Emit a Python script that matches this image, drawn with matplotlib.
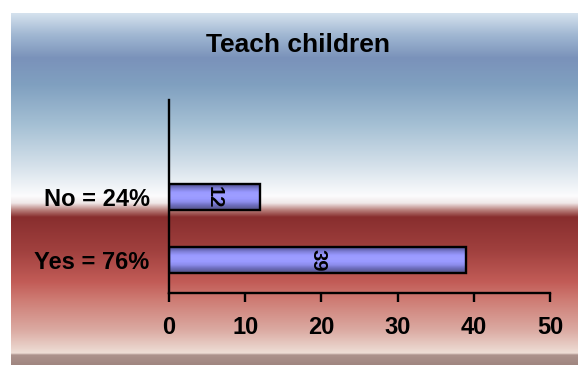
import numpy as np
import matplotlib
matplotlib.use("Agg")
import matplotlib.pyplot as plt

# Survey answers and counts
categories = ["Yes = 76%", "No = 24%"]
counts = [39, 12]
xticks = [0, 10, 20, 30, 40, 50]
title = "Teach children"

plt.rcParams['font.family'] = ['Liberation Sans', 'DejaVu Sans']

W, H = 578, 365
fig = plt.figure(figsize=(W / 100, H / 100), dpi=100)
fig.patch.set_facecolor('white')

# Chart-area backdrop: blue sky fading to white, then a red band fading to pink
stops = [
    (13, (214, 227, 238)),
    (35, (160, 183, 210)),
    (58, (122, 146, 186)),
    (85, (128, 160, 192)),
    (125, (165, 192, 212)),
    (165, (212, 224, 234)),
    (196, (252, 252, 253)),
    (203, (240, 232, 232)),
    (210, (185, 128, 124)),
    (217, (136, 46, 46)),
    (250, (160, 64, 62)),
    (282, (194, 92, 87)),
    (300, (206, 124, 116)),
    (330, (219, 170, 162)),
    (353, (238, 222, 214)),
    (355, (172, 146, 140)),
    (365, (160, 134, 128)),
]
rows = np.arange(13, 365) + 0.5
ys = [s[0] for s in stops]
grad = np.stack([np.interp(rows, ys, [s[1][c] for s in stops]) for c in range(3)], axis=-1) / 255.0
grad = grad[:, None, :]

bg = fig.add_axes([11 / W, 0, 1 - 11 / W, 352 / H], zorder=0)
bg.imshow(grad, aspect='auto', extent=[0, 1, 0, 1], interpolation='bilinear')
bg.set_axis_off()

# Bar chart
ax = fig.add_axes([169 / W, (H - 293) / H, 381 / W, 193 / H], zorder=1)
ax.patch.set_alpha(0)

ypos = np.arange(len(categories))
bar_h = 0.41
bars = ax.barh(ypos, counts, height=bar_h, facecolor='none',
               edgecolor='black', linewidth=1.7, zorder=3)

# Shaded periwinkle fill for each bar
shade = np.array([
    (96, 96, 170), (130, 130, 220), (153, 153, 255), (158, 158, 255),
    (153, 153, 255), (140, 140, 235), (110, 110, 190), (90, 90, 150)
]) / 255.0
shade = shade[:, None, :]
for b, y, v in zip(bars, ypos, counts):
    im = ax.imshow(shade, aspect='auto', extent=[0, v, y - bar_h / 2, y + bar_h / 2],
                   interpolation='bilinear', zorder=2)
    im.set_clip_path(b)
    ax.text(v / 2, y, str(v), rotation=270, ha='center', va='center',
            fontsize=14.5, fontweight='bold', color='black', zorder=4)

ax.set_xlim(0, 50)
ax.set_ylim(-0.524, 2.54)
ax.set_xticks(xticks)
ax.set_xticklabels([str(t) for t in xticks], fontsize=17, fontweight='bold')
ax.set_yticks(ypos)
ax.set_yticklabels(categories, fontsize=17, fontweight='bold')
ax.tick_params(axis='x', direction='out', length=6.5, width=1.7, pad=10)
ax.tick_params(axis='y', length=0, pad=14)
for s in ['top', 'right']:
    ax.spines[s].set_visible(False)
for s in ['left', 'bottom']:
    ax.spines[s].set_linewidth(1.7)

fig.text(298 / W, (H - 45) / H, title, ha='center', va='center',
         fontsize=19, fontweight='bold')

fig.savefig('out.png', dpi=100)
